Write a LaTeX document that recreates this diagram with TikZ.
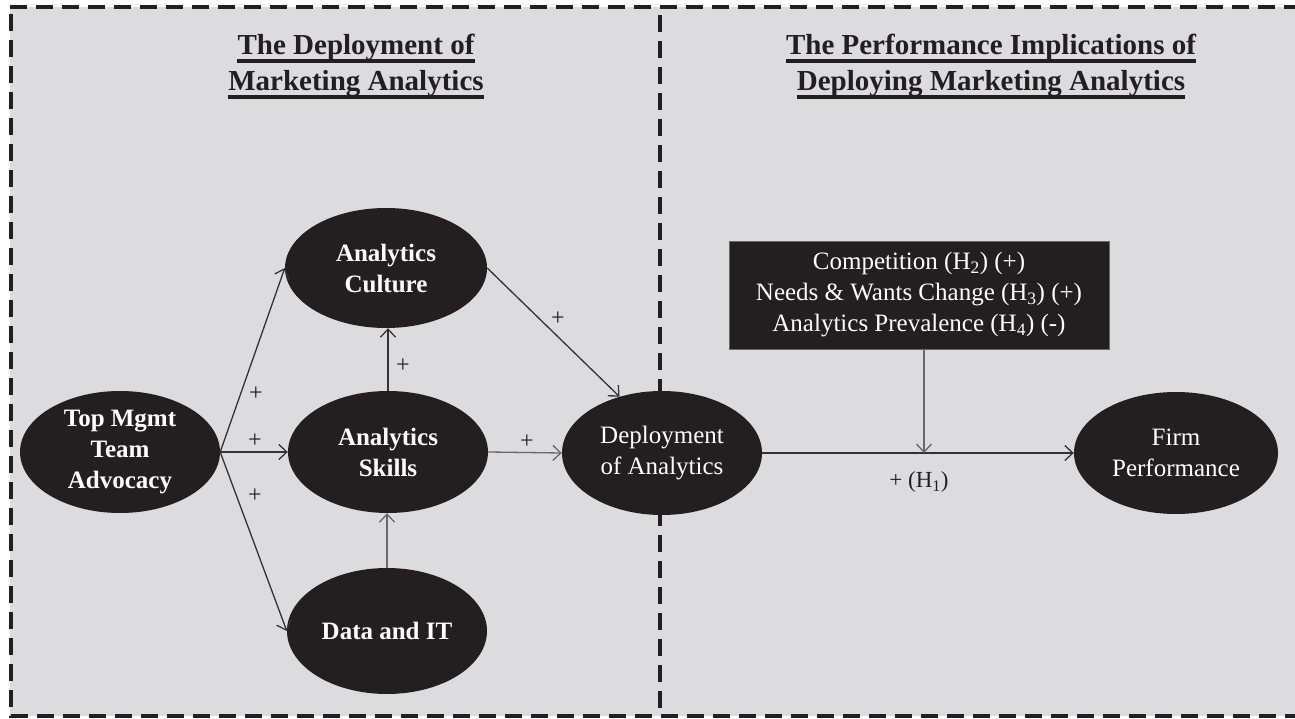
\documentclass[tikz,border=0pt]{standalone}
\usepackage{fontspec}
\setmainfont{Liberation Serif}
\usetikzlibrary{arrows.meta,shapes.geometric}
\definecolor{bg}{HTML}{DCDCDE}
\definecolor{ink}{HTML}{231F20}
\definecolor{arr}{HTML}{333333}
\definecolor{arrl}{HTML}{686868}
\begin{document}
\begin{tikzpicture}[x=1pt,y=-1pt,
  frame/.style={line width=3.2pt, draw=ink, dash pattern=on 17pt off 9pt},
  title/.style={font=\bfseries\fontsize{29}{35}\selectfont, text=ink, inner sep=0pt, anchor=base},
  uline/.style={line width=3.5pt, draw=ink},
  cons/.style={ellipse, fill=ink, text=white, inner sep=0pt, align=center,
    font=\fontsize{25}{31}\selectfont},
  bcons/.style={cons, font=\bfseries\fontsize{25}{31}\selectfont},
  modbox/.style={rectangle, fill=ink, draw=arrl, line width=0.8pt, text=white, align=center,
    minimum width=380pt, minimum height=108pt, inner sep=0pt, font=\fontsize{25}{31}\selectfont},
  plus/.style={font=\fontsize{24}{26}\selectfont, text=ink, inner sep=0pt},
  link/.style={draw=arr, line width=1.3pt, -{Straight Barb[length=8pt,width=15pt,line width=1.3pt]}},
  linkl/.style={link, draw=arrl}
]
\useasboundingbox (0,0) rectangle (1295,719);
% background and frame
\fill[bg] (10,7) rectangle (1295,716);
\draw[frame] (10,7) -- (1295,7);
\draw[frame] (11,14) -- (11,716) -- (1295,716);
\draw[frame] (660,15) -- (660,716);

% titles
\node[title] (t1a) at (356,55) {The Deployment of};
\node[title] (t1b) at (356,91) {Marketing Analytics};
\node[title] (t2a) at (991,55) {The Performance Implications of};
\node[title] (t2b) at (991,91) {Deploying Marketing Analytics};
\foreach \t in {t1a,t1b,t2a,t2b}{
  \draw[uline] ([yshift=-6pt]\t.base west) -- ([yshift=-6pt]\t.base east);
}

% constructs
\node[bcons, minimum width=200pt, minimum height=122pt] (top) at (120,452) {Top Mgmt\\Team\\Advocacy};
\node[bcons, minimum width=202pt, minimum height=120pt] (cul) at (386,268) {Analytics\\Culture};
\node[bcons, minimum width=200pt, minimum height=122pt] (skl) at (388,452) {Analytics\\Skills};
\node[bcons, minimum width=200pt, minimum height=126pt] (data) at (387,631) {Data and IT};
\node[cons, minimum width=200pt, minimum height=124pt] (dep) at (662,453) {Deployment\\of Analytics};
\node[cons, minimum width=204pt, minimum height=122pt] (firm) at (1176,453) {Firm\\Performance};
\node[modbox] (mod) at (919,295) {Competition (H\textsubscript{2}) (+)\\Needs \& Wants Change (H\textsubscript{3}) (+)\\Analytics Prevalence (H\textsubscript{4}) (-)};

% connectors
\draw[link] (top.east) -- (cul.west);
\draw[link] (top.east) -- (skl.west);
\draw[link] (top.east) -- (data.west);
\draw[link] (skl.north) -- (skl.north |- cul.south);
\draw[linkl] (data.north) -- (data.north |- skl.south);
\draw[link] (cul.east) -- (dep.127);
\draw[linkl] (skl.east) -- (dep.west);
\draw[link] (dep.east) -- (firm.west);
\coordinate (modtip) at (924,453);
\draw[linkl] (mod.south -| modtip) -- (modtip);

% labels
\node[plus] (p1) at (256,394) {+};
\node[plus] (p2) at (255,441) {+};
\node[plus] (p3) at (255,496) {+};
\node[plus] (p4) at (403,366) {+};
\node[plus] (p5) at (558,319) {+};
\node[plus] (p6) at (527,442) {+};
\node[plus] (p7) at (413,602) {+};
\node[plus, font=\fontsize{23}{26}\selectfont] (h1) at (919,482) {+ (H\textsubscript{1})};
\end{tikzpicture}
\end{document}
